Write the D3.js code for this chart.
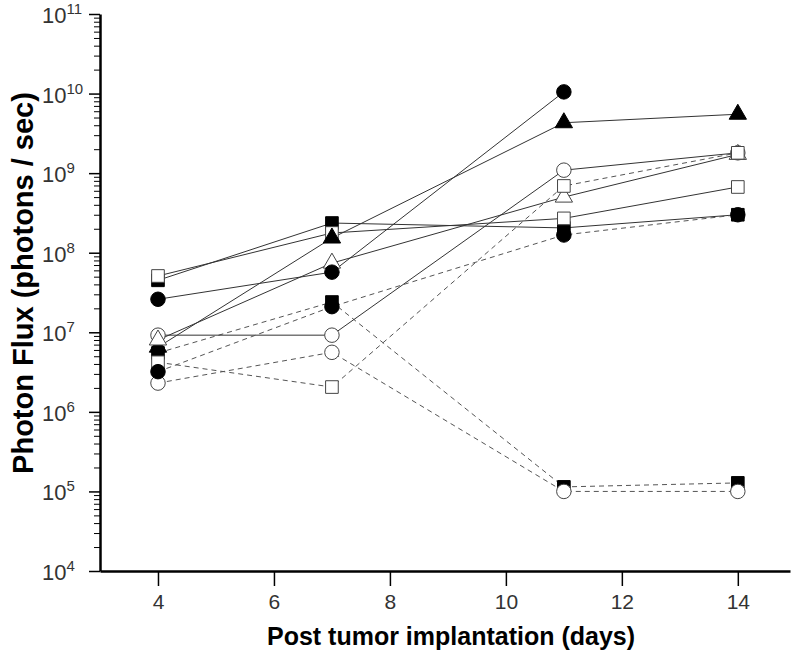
<!DOCTYPE html>
<html>
<head>
<meta charset="utf-8">
<script src="https://cdn.jsdelivr.net/npm/d3@7"></script>
<style>
  body { margin: 0; background: #fff; }
  text { font-family: "Liberation Sans", Arial, sans-serif; }
</style>
</head>
<body>
<script>
var svg_width = 800;
var svg_height = 658;

// days after implantation
var days = [4, 7, 11, 14];
var x_ticks = [4, 6, 8, 10, 12, 14];
var y_decades = [4, 5, 6, 7, 8, 9, 10, 11];

// photon flux per animal (photons / sec)
var fs_solid = [4.5e7, 2.36e8, 2.05e8, 3.0e8];
var fs_dashed = [5.5e6, 2.4e7, 1.14e5, 1.28e5];
var oc_solid = [9.2e6, 9.2e6, 1.09e9, 1.8e9];
var oc_dashed = [2.3e6, 5.6e6, 1.0e5, 1.0e5];
var os_solid = [5.1e7, 1.77e8, 2.7e8, 6.7e8];
var os_dashed = [4.2e6, 2.05e6, 6.9e8, 1.8e9];
var ft_solid = [6.5e6, 1.53e8, 4.3e9, 5.5e9];
var ot_solid = [8.0e6, 7.4e7, 5.0e8, 1.72e9];
var fc_solid = [2.6e7, 5.7e7, 1.05e10];
var fc_dashed = [3.2e6, 2.1e7, 1.67e8, 3.0e8];

// drawing order matters a bit where markers overlap
var series = [
    { values: fs_solid, shape: "square", filled: true, dashed: false },
    { values: fs_dashed, shape: "square", filled: true, dashed: true },
    { values: oc_solid, shape: "circle", filled: false, dashed: false },
    { values: oc_dashed, shape: "circle", filled: false, dashed: true },
    { values: os_solid, shape: "square", filled: false, dashed: false },
    { values: ft_solid, shape: "triangle", filled: true, dashed: false },
    { values: ot_solid, shape: "triangle", filled: false, dashed: false },
    { values: os_dashed, shape: "square", filled: false, dashed: true },
    { values: fc_solid, shape: "circle", filled: true, dashed: false },
    { values: fc_dashed, shape: "circle", filled: true, dashed: true }
];

var left = 100, right = 790, top_ = 14, bottom = 571;

var xscale = d3.scaleLinear()
    .domain([3, 14.9])
    .range([left, right]);
var yscale = d3.scaleLog()
    .domain([1e4, 1e11])
    .range([bottom, top_]);

var svg = d3.select("body")
    .append("svg")
    .attr("width", svg_width)
    .attr("height", svg_height);

//---lines first, markers on top
var line = d3.line()
    .x(function(d) { return xscale(d[0]); })
    .y(function(d) { return yscale(d[1]); });

series.forEach(function(s)
{
    var pts = s.values.map(function(v, i) { return [days[i], v]; });
    svg.append("path")
        .attr("d", line(pts))
        .attr("fill", "none")
        .attr("stroke", s.dashed ? "#555" : "#333")
        .attr("stroke-width", 1)
        .attr("stroke-dasharray", s.dashed ? "5,4" : null);
});

var shapes = {
    circle: d3.symbol().type(d3.symbolCircle).size(165),
    square: d3.symbol().type(d3.symbolSquare).size(160),
    triangle: d3.symbol().type(d3.symbolTriangle).size(130)
};

series.forEach(function(s)
{
    svg.selectAll(null)
        .data(s.values)
        .enter()
        .append("path")
        .attr("d", shapes[s.shape]())
        .attr("transform", function(d, i)
        {
            return "translate(" + xscale(days[i]) + "," + yscale(d) + ")";
        })
        .attr("fill", s.filled ? "#000" : "#fff")
        .attr("stroke", s.filled ? "#000" : "#444")
        .attr("stroke-width", 1);
});

//---y axis: major and minor ticks pointing out
var minor = [];
for(var k = 4; k < 11; k++)
{
    for(var m = 2; m <= 9; m++)
    {
        minor.push(m * Math.pow(10, k));
    }
}
svg.append("g")
    .attr("transform", "translate(" + left + ",0)")
    .call(d3.axisLeft(yscale).tickValues(minor).tickSize(6).tickFormat(""))
    .call(function(g) { g.select(".domain").remove(); });
var yaxis = svg.append("g")
    .attr("transform", "translate(" + left + ",0)")
    .call(d3.axisLeft(yscale)
        .tickValues(y_decades.map(function(e) { return Math.pow(10, e); }))
        .tickSize(11)
        .tickSizeOuter(0)
        .tickFormat(""));
yaxis.selectAll("line").attr("stroke", "#000").attr("stroke-width", 1.5);
yaxis.select(".domain").attr("stroke", "#000").attr("stroke-width", 2.5);

var ylabels = svg.selectAll(".ylab")
    .data(y_decades)
    .enter()
    .append("text")
    .attr("class", "ylab")
    .attr("x", 42)
    .attr("y", function(d) { return yscale(Math.pow(10, d)) + 9; })
    .attr("fill", "#333")
    .style("font-size", "22px");
ylabels.append("tspan").text("10");
ylabels.append("tspan")
    .attr("dy", -9)
    .style("font-size", "15px")
    .text(function(d) { return d; });

//---x axis
var xaxis = svg.append("g")
    .attr("transform", "translate(0," + bottom + ")")
    .call(d3.axisBottom(xscale)
        .tickValues(x_ticks)
        .tickSize(15)
        .tickSizeOuter(0)
        .tickPadding(8));
xaxis.select(".domain").attr("stroke", "#000").attr("stroke-width", 2.5);
xaxis.selectAll("line").attr("stroke", "#000").attr("stroke-width", 1.5);
xaxis.selectAll("text")
    .attr("fill", "#333")
    .style("font-family", "'Liberation Sans', Arial, sans-serif")
    .style("font-size", "21px");

//---titles
svg.append("text")
    .attr("x", 451)
    .attr("y", 645)
    .attr("text-anchor", "middle")
    .style("font-size", "25px")
    .style("font-weight", "bold")
    .text("Post tumor implantation (days)");
svg.append("text")
    .attr("transform", "translate(33,283) rotate(-90)")
    .attr("text-anchor", "middle")
    .style("font-size", "29px")
    .style("font-weight", "bold")
    .text("Photon Flux (photons / sec)");
</script>
</body>
</html>
